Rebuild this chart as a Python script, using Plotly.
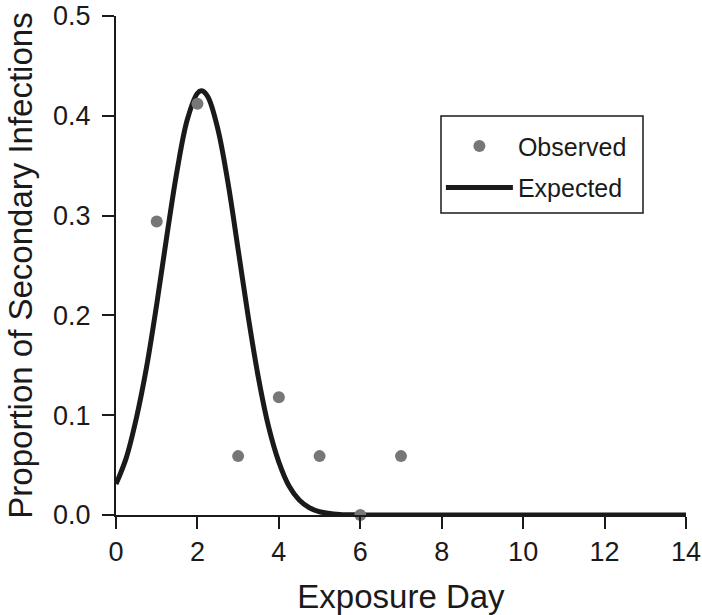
import plotly.graph_objects as go

# observed proportion of secondary infections by exposure day
obs_day = [1, 2, 3, 4, 5, 6, 7]
obs_prop = [0.294, 0.412, 0.059, 0.118, 0.059, 0.0, 0.059]

# expected curve
exp_day = [0, 0.25, 0.5, 0.75, 1.0, 1.25, 1.5, 1.75, 2.0, 2.1, 2.25, 2.5, 2.75,
           3.0, 3.25, 3.5, 3.75, 4.0, 4.25, 4.5, 4.75, 5.0, 5.5, 6.0, 8.0, 10.0, 12.0, 14.0]
exp_prop = [0.031, 0.057, 0.097, 0.148, 0.211, 0.280, 0.345, 0.396, 0.4226, 0.425, 0.4195,
            0.387, 0.333, 0.266, 0.198, 0.137, 0.088, 0.053, 0.029, 0.015, 0.0073, 0.0033,
            0.0005, 0.0001, 0.0, 0.0, 0.0, 0.0]

x_ticks = [0, 2, 4, 6, 8, 10, 12, 14]
y_ticks = [0.0, 0.1, 0.2, 0.3, 0.4, 0.5]

ink = '#1a1a1a'
font_family = 'Liberation Sans, Arial, sans-serif'

fig = go.Figure()
fig.add_trace(go.Scatter(x=exp_day, y=exp_prop, mode='lines', name='Expected',
                         line=dict(color=ink, width=5, shape='spline'),
                         legendrank=2, legendgroup='e'))
fig.add_trace(go.Scatter(x=obs_day, y=obs_prop, mode='markers', name='Observed',
                         marker=dict(color='#777777', size=12),
                         cliponaxis=False, legendrank=1, legendgroup='o'))

axis_common = dict(showline=True, linecolor=ink, linewidth=2, ticks='outside',
                   ticklen=12, tickwidth=2, tickcolor=ink, showgrid=False,
                   zeroline=False, automargin=False, ticklabeloverflow='allow',
                   tickfont=dict(size=27, color=ink))

fig.update_xaxes(range=[0, 14], tickvals=x_ticks, ticklabelstandoff=0,
                 title=dict(text='Exposure Day', font=dict(size=33, color=ink), standoff=18),
                 **axis_common)
fig.update_yaxes(range=[0, 0.5], tickvals=y_ticks, tickformat='.1f', ticklabelstandoff=6,
                 title=dict(text='Proportion of Secondary Infections',
                            font=dict(size=33, color=ink), standoff=11),
                 **axis_common)

# legend frame
fig.add_shape(type='rect', xref='paper', yref='paper',
              x0=(441 - 116) / 570, x1=(643 - 116) / 570,
              y0=(515 - 213) / 499, y1=(515 - 116) / 499,
              line=dict(color=ink, width=1.5), fillcolor='rgba(0,0,0,0)')

fig.update_layout(
    width=702, height=615,
    margin=dict(l=116, r=16, t=16, b=100),
    plot_bgcolor='white', paper_bgcolor='white',
    font=dict(family=font_family, color=ink),
    showlegend=True,
    legend=dict(x=0.57, y=0.785, xanchor='left', yanchor='top',
                borderwidth=0, bgcolor='rgba(0,0,0,0)',
                font=dict(size=25, color=ink), itemwidth=67,
                tracegroupgap=6),
)

# drop the default page margin so the figure sits at the window corner
fig.write_html("out.html", config={'displayModeBar': False},
               post_script="document.body.style.margin='0';")
